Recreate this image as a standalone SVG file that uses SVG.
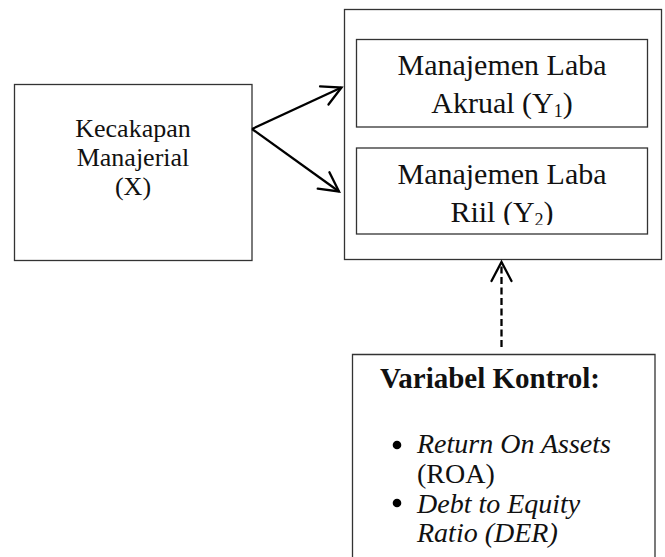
<svg xmlns="http://www.w3.org/2000/svg" width="665" height="557" viewBox="0 0 665 557">
<style>
.box{fill:#fff;stroke:#333;stroke-width:1.3}
.t{font-family:"Liberation Serif","Times New Roman",serif;fill:#111}
.c{text-anchor:middle}
.conn{stroke:#000;stroke-width:2.3;fill:none}
</style>
<defs>
<marker id="ah" markerUnits="userSpaceOnUse" viewBox="-22 -12 24 24" markerWidth="24" markerHeight="24" refX="0" refY="0" orient="auto" overflow="visible">
<path d="M-19,-10 L0,0 L-19,10" fill="none" stroke="#000" stroke-width="2.3" stroke-linecap="round" stroke-linejoin="miter"/>
</marker>
<clipPath id="clipY2"><rect x="356" y="148" width="292" height="77"/></clipPath>
</defs>
<rect width="665" height="557" fill="#fff"/>
<g id="nodeX">
<rect class="box" x="14.5" y="84.5" width="237.5" height="176"/>
<text class="t c" font-size="26" x="133" y="137">Kecakapan</text>
<text class="t c" font-size="26" x="133" y="166">Manajerial</text>
<text class="t c" font-size="26" x="133" y="195">(X)</text>
</g>
<g id="nodeY">
<rect class="box" x="344.5" y="9.5" width="317" height="250"/>
</g>
<g id="nodeY1">
<rect class="box" x="356.5" y="39.5" width="291" height="87.5"/>
<text class="t c" font-size="30" x="502" y="75">Manajemen Laba</text>
<text class="t c" font-size="30" x="502" y="113">Akrual (Y<tspan font-size="18" dy="4">1</tspan><tspan dy="-4">)</tspan></text>
</g>
<g id="nodeY2">
<rect class="box" x="356.5" y="148" width="291" height="86"/>
<g clip-path="url(#clipY2)">
<text class="t c" font-size="30" x="502" y="184">Manajemen Laba</text>
<text class="t c" font-size="30" x="502" y="222">Riil (Y<tspan font-size="18" dy="4">2</tspan><tspan dy="-4">)</tspan></text>
</g>
</g>
<g id="nodeControl">
<path class="box" d="M352.5,600 V354.5 H655 V600"/>
<text class="t c" font-size="29" font-weight="bold" x="490" y="388">Variabel Kontrol:</text>
<circle cx="397" cy="445" r="4.3" fill="#000"/>
<circle cx="397" cy="503" r="4.3" fill="#000"/>
<text class="t" font-size="28" font-style="italic" x="417" y="453">Return On Assets</text>
<text class="t" font-size="28" x="417" y="483">(ROA)</text>
<text class="t" font-size="28" font-style="italic" x="417" y="513">Debt to Equity</text>
<text class="t" font-size="28" font-style="italic" x="417" y="542">Ratio (DER)</text>
</g>
<g id="connectors">
<line class="conn" x1="252" y1="129" x2="341.5" y2="87.5" marker-end="url(#ah)"/>
<line class="conn" x1="252" y1="129" x2="339" y2="191.5" marker-end="url(#ah)"/>
<line class="conn" x1="501.5" y1="347" x2="501.5" y2="262" stroke-dasharray="7 3.5" marker-end="url(#ah)"/>
</g>
</svg>
